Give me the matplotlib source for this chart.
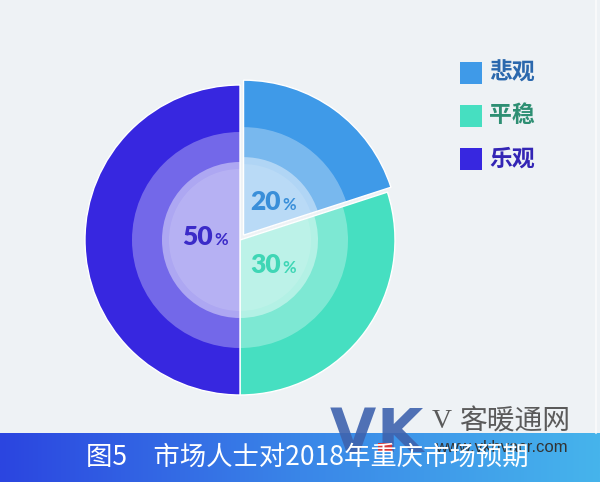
import numpy as np
import matplotlib.pyplot as plt
from matplotlib.colors import LinearSegmentedColormap

plt.rcParams['font.family'] = ['Noto Sans CJK SC', 'DejaVu Sans']

# data
labels = ['悲观', '平稳', '乐观']
values = [20, 30, 50]
colors = ['#3f9ae8', '#46dfc1', '#3727e0']
label_colors = ['#3a8fd9', '#3fd6b5', '#3b2bc8']
legend_text_colors = ['#2b68ad', '#2e8f73', '#3325b5']
title = '图5　市场人士对2018年重庆市场预期'

W, H = 600, 482
BG = '#eef2f5'


def Y(y):
    # pixel row (from top) -> data y
    return H - y


fig = plt.figure(figsize=(6, 4.82), dpi=100)
fig.patch.set_facecolor(BG)
ax = fig.add_axes([0, 0, 1, 1])
ax.set_facecolor(BG)

cx, cy = 240, Y(240)
off = 6.0  # explode offset in px for the first slice (pie uses data units)

# outer pie and lighter concentric layers
layers = [(155, None), (108, 0.30), (78, 0.42), (71, 0.12)]
for r, a in layers:
    explode = [off, 0, 0]
    if a is None:
        ax.pie(values, colors=colors, radius=r, center=(cx, cy), startangle=90,
               counterclock=False, explode=explode,
               wedgeprops=dict(edgecolor='white', linewidth=1.0))
    else:
        ax.pie(values, colors=['white'] * 3, radius=r, center=(cx, cy), startangle=90,
               counterclock=False, explode=explode,
               wedgeprops=dict(alpha=a, linewidth=0))

# percent labels
pos = [(281, 210), (281, 273), (213, 245)]
for (x, y), v, c in zip(pos, values, label_colors):
    ax.text(x, Y(y), str(v), color=c, fontsize=19, fontweight='heavy',
            ha='right', va='baseline', family='Lato')
    ax.text(x + 1, Y(y), '%', color=c, fontsize=12, fontweight='bold',
            ha='left', va='baseline', family='Lato')

# legend
for i, (lab, c, tc) in enumerate(zip(labels, colors, legend_text_colors)):
    top = 62 + i * 43
    ax.add_patch(plt.Rectangle((460, Y(top + 22)), 22, 22, color=c, lw=0))
    ax.text(489, Y(top + 11), lab, color=tc, fontsize=16.5, fontweight='heavy',
            ha='left', va='center')

# bottom banner with gradient
cmap = LinearSegmentedColormap.from_list('band', ['#2b45e0', '#3a86e8', '#46b4ec'])
grad = np.linspace(0, 1, 256).reshape(1, -1)
ax.imshow(grad, cmap=cmap, aspect='auto', extent=(0, W, 0, Y(433)), zorder=1)
ax.text(86, Y(457), title, color='white', fontsize=19, ha='left', va='center', zorder=4)

# watermark
ax.text(330, Y(452), 'V', color='#3f63ae', alpha=0.9, fontsize=43, fontweight='heavy',
        family='DejaVu Sans', ha='left', va='baseline', zorder=2)
ax.text(376, Y(452), 'K', color='#3f63ae', alpha=0.9, fontsize=43, fontweight='heavy',
        family='DejaVu Sans', ha='left', va='baseline', zorder=2)
ax.add_patch(plt.Rectangle((378, Y(452)), 14, 9, color='#d83a3a', lw=0, zorder=3))
ax.text(432, Y(421), 'V', color='#5a5a5a', fontsize=20, ha='left', va='center',
        zorder=3, family='Liberation Serif')
ax.text(459, Y(421), '客暖通网', color='#5a5a5a', fontsize=20, ha='left', va='center',
        zorder=3)
ax.text(435, Y(448), 'www.vkhvacr.com', color='#333333', fontsize=12, ha='left',
        va='center', zorder=3, family='Liberation Sans')

# light edge on the right
ax.plot([596, 596], [Y(433), H], color='white', alpha=0.6, lw=1.5)

ax.set_xlim(0, W)
ax.set_ylim(0, H)
ax.set_aspect('auto')
ax.axis('off')

plt.savefig('out.png', dpi=100, facecolor=BG)
